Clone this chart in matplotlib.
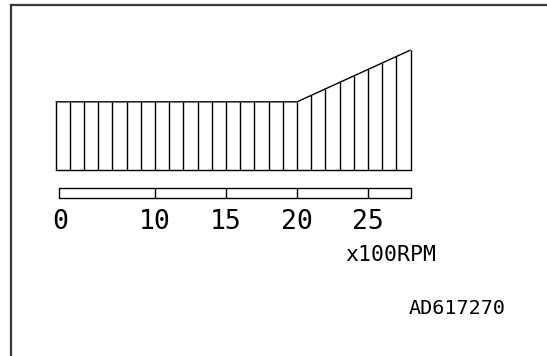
import numpy as np
import matplotlib
matplotlib.use('Agg')
import matplotlib.pyplot as plt
from matplotlib.patches import Rectangle

# outline of the hatched band (x in 100 RPM, height in drawing units)
outline_x = [3, 20, 28]
outline_top = [4.8, 4.8, 8.45]
hatch_x = np.arange(3, 29)

# scale bar
bar_start, bar_end = 3.25, 28.0
divider_x = [10, 15, 20, 25]
label_x = [3.35, 10, 15, 20, 25]
label_text = ['0', '10', '15', '20', '25']
unit_text = 'x100RPM'
code_text = 'AD617270'

fig = plt.figure(figsize=(5.47, 3.56), dpi=100)
ax = fig.add_axes([11 / 547, 0, 1 - 11 / 547, (356 - 5) / 356])
ax.set_xlim(-0.141, 37.606)
ax.set_ylim(-13.1, 11.62)
for side in ['right', 'bottom']:
    ax.spines[side].set_visible(False)
for side in ['left', 'top']:
    ax.spines[side].set_linewidth(1.6)
    ax.spines[side].set_color('#3a3a3a')
ax.set_xticks([])
ax.set_yticks([])

lw = 1.0
# band outline
ax.plot(outline_x, outline_top, color='black', lw=lw, solid_capstyle='butt')
ax.plot([outline_x[0], outline_x[-1]], [0, 0], color='black', lw=lw)
# vertical hatching
hatch_top = np.interp(hatch_x, outline_x, outline_top)
ax.vlines(hatch_x, 0, hatch_top, color='black', lw=lw)

# scale bar
ax.add_patch(Rectangle((bar_start, -1.97), bar_end - bar_start, 0.70,
                       fill=False, edgecolor='black', lw=lw))
ax.vlines(divider_x, -1.97, -1.27, color='black', lw=lw)

font = 'DejaVu Sans Mono'
for x, t in zip(label_x, label_text):
    ax.text(x, -3.66, t, ha='center', va='center', fontsize=19,
            family=font, color='black')
ax.text(26.63, -5.99, unit_text, ha='center', va='center', fontsize=15.5,
        family=font, color='black')
ax.text(31.27, -9.72, code_text, ha='center', va='center', fontsize=14.5,
        family=font, color='black')

fig.savefig('out.png', dpi=100)
